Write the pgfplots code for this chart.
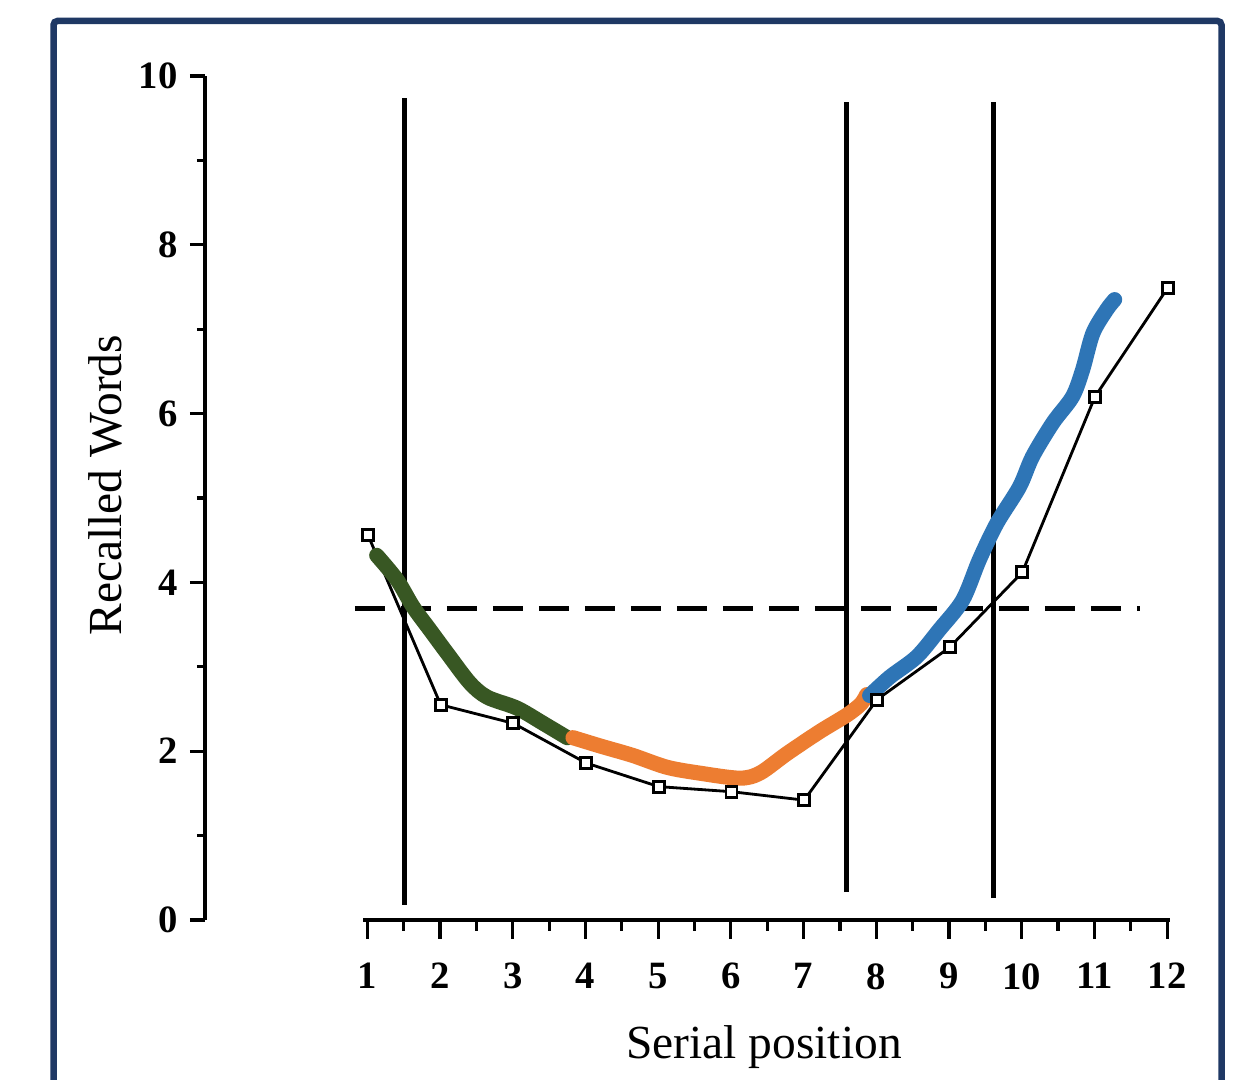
\documentclass[border=0pt]{standalone}
\usepackage{fontspec}
\setmainfont{Liberation Serif}
\usepackage{pgfplots}
\pgfplotsset{compat=1.18}
\definecolor{framecol}{HTML}{1F3864}
\definecolor{cgreen}{HTML}{385723}
\definecolor{corange}{HTML}{ED7D31}
\definecolor{cblue}{HTML}{2E75B6}

\begin{document}
\begin{tikzpicture}
\clip (0,0) rectangle (12.43,10.8);
\fill[white] (0,0) rectangle (12.43,10.8);
\draw[framecol, line width=0.065cm, rounded corners=0.04cm] (0.535,-0.5) rectangle (12.215,10.59);

% y axis and all the data
\begin{axis}[
  at={(2.05cm,1.60cm)}, anchor=south west,
  scale only axis, width=9.95cm, height=8.44cm,
  xmin=-1.242, xmax=12.444, ymin=0, ymax=10,
  axis x line=none, axis y line*=left,
  axis line style={-, line width=0.9pt},
  ytick={0,2,...,10}, minor ytick={1,3,...,9},
  tick align=outside, major tick length=0.15cm, minor tick length=0.08cm,
  tick style={black, line width=0.9pt},
  /pgf/number format/assume math mode=true,
  yticklabel style={font=\fontsize{11}{13}\selectfont\bfseries},
  ylabel={Recalled Words},
  ylabel style={at={(axis description cs:-0.1005,0.515)}, anchor=center,
    font=\fontsize{13.5}{15}\selectfont},
]
% vertical markers
\addplot[black, line width=1.3pt] coordinates {(1.50,0.18) (1.50,9.74)};
\addplot[black, line width=1.3pt] coordinates {(7.58,0.33) (7.58,9.69)};
\addplot[black, line width=1.3pt] coordinates {(9.60,0.26) (9.60,9.69)};
% mean line
\addplot[black, line width=1.3pt, dash pattern=on 0.30cm off 0.16cm]
  coordinates {(0.82,3.69) (11.62,3.69)};
% recall data
\addplot[black, line width=0.8pt, mark=square*, mark size=0.055cm,
  mark options={solid, fill=white, line width=0.8pt}] coordinates {
  (1,4.56) (2,2.55) (3,2.33) (4,1.86) (5,1.58) (6,1.52)
  (7,1.42) (8,2.61) (9,3.23) (10,4.12) (11,6.20) (12,7.49)};
% highlighted segments
\addplot[cgreen, line width=4.3pt, line cap=round, line join=round, smooth] coordinates {
  (1.12,4.32) (1.40,4.03) (1.62,3.71) (1.85,3.44) (2.09,3.16) (2.40,2.81)
  (2.64,2.64) (3.05,2.51) (3.41,2.33) (3.74,2.16)};
\addplot[corange, line width=4.3pt, line cap=round, line join=round, smooth] coordinates {
  (3.82,2.16) (4.20,2.06) (4.64,1.95) (5.11,1.81) (5.56,1.74) (6.11,1.68)
  (6.39,1.74) (6.76,1.97) (7.21,2.23) (7.59,2.43) (7.78,2.56) (7.86,2.67)};
\addplot[cblue, line width=4.3pt, line cap=round, line join=round, smooth] coordinates {
  (7.90,2.66) (8.18,2.88) (8.55,3.12) (8.86,3.44) (9.18,3.79) (9.41,4.27)
  (9.65,4.70) (9.96,5.13) (10.14,5.49) (10.42,5.89) (10.69,6.20) (10.83,6.52)
  (10.97,6.95) (11.16,7.23) (11.27,7.35)};
\end{axis}

% x axis
\begin{axis}[
  at={(3.63cm,1.60cm)}, anchor=south west,
  scale only axis, width=8.07cm, height=8.44cm,
  xmin=0.94, xmax=12.04, ymin=0, ymax=10,
  axis y line=none, axis x line*=bottom,
  axis line style={-, line width=1pt},
  xtick={1,...,12}, minor xtick={1.5,2.5,...,11.5},
  tick align=outside, major tick length=0.19cm, minor tick length=0.11cm,
  tick style={black, line width=0.9pt},
  /pgf/number format/assume math mode=true,
  xticklabel style={font=\fontsize{11}{13}\selectfont\bfseries, yshift=-0.12cm},
  xlabel={Serial position},
  xlabel style={at={(axis description cs:0.497,-0.151)}, anchor=center,
    font=\fontsize{13.5}{15}\selectfont},
]
\addplot[draw=none] coordinates {(1,0) (12,0)};
\end{axis}
\end{tikzpicture}
\end{document}
